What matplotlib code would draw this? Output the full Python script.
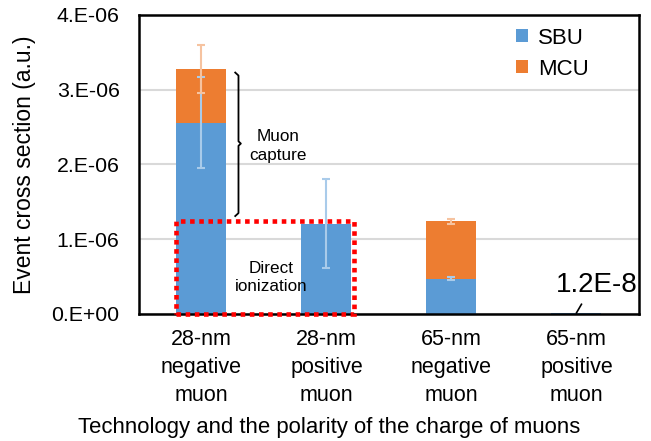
import matplotlib.pyplot as plt
import matplotlib.ticker as ticker
from matplotlib.patches import Rectangle
import numpy as np

plt.rcParams['font.family'] = ['Liberation Sans', 'DejaVu Sans']

# Event cross sections (a.u.) per technology / muon polarity
categories = ["28-nm\nnegative\nmuon", "28-nm\npositive\nmuon",
              "65-nm\nnegative\nmuon", "65-nm\npositive\nmuon"]
sbu = [2.56e-6, 1.21e-6, 0.47e-6, 1.2e-8]
mcu = [0.72e-6, 0.0, 0.77e-6, 0.0]
sbu_err = [0.61e-6, 0.60e-6, 0.02e-6, 0.0]
mcu_err = [0.32e-6, 0.0, 0.03e-6, 0.0]
small_label = "1.2E-8"

blue = "#5B9BD5"
orange = "#ED7D31"
light_blue = "#A9CBEA"
light_orange = "#F6C3A0"


def excel_sci(v, pos):
    # Format like Excel's "0.E+00"
    if v == 0:
        return "0.E+00"
    e = int(np.floor(np.log10(abs(v)) + 1e-9))
    m = v / 10**e
    sign = "+" if e >= 0 else "-"
    return "{0:.0f}.E{1}{2:02d}".format(m, sign, abs(e))


fig = plt.figure(figsize=(6.51, 4.41), dpi=100)
ax = fig.add_axes([0.2135, 0.288, 0.768, 0.678])

x = np.arange(len(categories))
w = 0.4
sbu = np.array(sbu)
mcu = np.array(mcu)
tot = sbu + mcu

ax.bar(x, sbu, w, color=blue, label="SBU", zorder=2)
ax.bar(x, mcu, w, bottom=sbu, color=orange, label="MCU", zorder=2)

# Error bars, only where there is an uncertainty
for i in range(len(x)):
    if sbu_err[i] > 0:
        ax.errorbar(x[i], sbu[i], yerr=sbu_err[i], color=light_blue,
                    lw=1.5, capsize=2.6, capthick=1.5, zorder=3)
    if mcu_err[i] > 0:
        ax.errorbar(x[i], tot[i], yerr=mcu_err[i], color=light_orange,
                    lw=1.5, capsize=2.6, capthick=1.5, zorder=3)

# Dotted box around the direct-ionization part
box = Rectangle((x[0] - w / 2, 0.0), (x[1] + 0.22) - (x[0] - w / 2), 1.24e-6,
                fill=False, edgecolor="#FF0000", lw=3.3,
                linestyle=(0, (1, 1)), zorder=4, clip_on=False)
ax.add_patch(box)
ax.text(0.56, 0.49e-6, "Direct\nionization", ha="center", va="center",
        fontsize=12.3, linespacing=1.3, zorder=5)

# Brace marking the muon capture part
bx0, bx1, bx2 = 0.27, 0.296, 0.315
ytop, ybot, ymid = 3.23e-6, 1.31e-6, 2.28e-6
ax.plot([bx0, bx1, bx1, bx2, bx1, bx1, bx0],
        [ytop, ytop - 0.04e-6, ymid + 0.03e-6, ymid, ymid - 0.03e-6,
         ybot + 0.04e-6, ybot], color="black", lw=1.3, zorder=5)
ax.text(0.61, 2.25e-6, "Muon\ncapture", ha="center", va="center",
        fontsize=12.3, linespacing=1.3)

# Label for the tiny bar
ax.plot([3.0, 3.04], [0.015e-6, 0.13e-6], color="black", lw=1.2, zorder=5)
ax.text(3.16, 0.39e-6, small_label, ha="center", va="center", fontsize=20)

ax.set_xlim(-0.5, 3.5)
ax.set_ylim(0, 4e-6)
ax.yaxis.set_major_locator(ticker.MultipleLocator(1e-6))
ax.yaxis.set_major_formatter(ticker.FuncFormatter(excel_sci))
ax.set_xticks(x)
ax.set_xticklabels(categories, linespacing=1.42)
ax.tick_params(axis="x", length=0, labelsize=15.5, pad=11)
ax.tick_params(axis="y", length=0, labelsize=15.3, pad=14)
ax.yaxis.grid(True, color="#D9D9D9", lw=1.5, zorder=0)
ax.set_axisbelow(True)
for s in ax.spines.values():
    s.set_linewidth(1.8)
    s.set_color("black")

ax.set_ylabel("Event cross section (a.u.)", fontsize=16.5, labelpad=11)
ax.set_xlabel("Technology and the polarity of the charge of muons",
              fontsize=15.9)
ax.xaxis.set_label_coords(0.38, -0.343)

ax.legend(loc="upper right", bbox_to_anchor=(0.94, 1.025), frameon=False,
          fontsize=16, handlelength=0.55, handleheight=0.55, handletextpad=0.45,
          labelspacing=0.45)

fig.savefig("out.png", dpi=100)
